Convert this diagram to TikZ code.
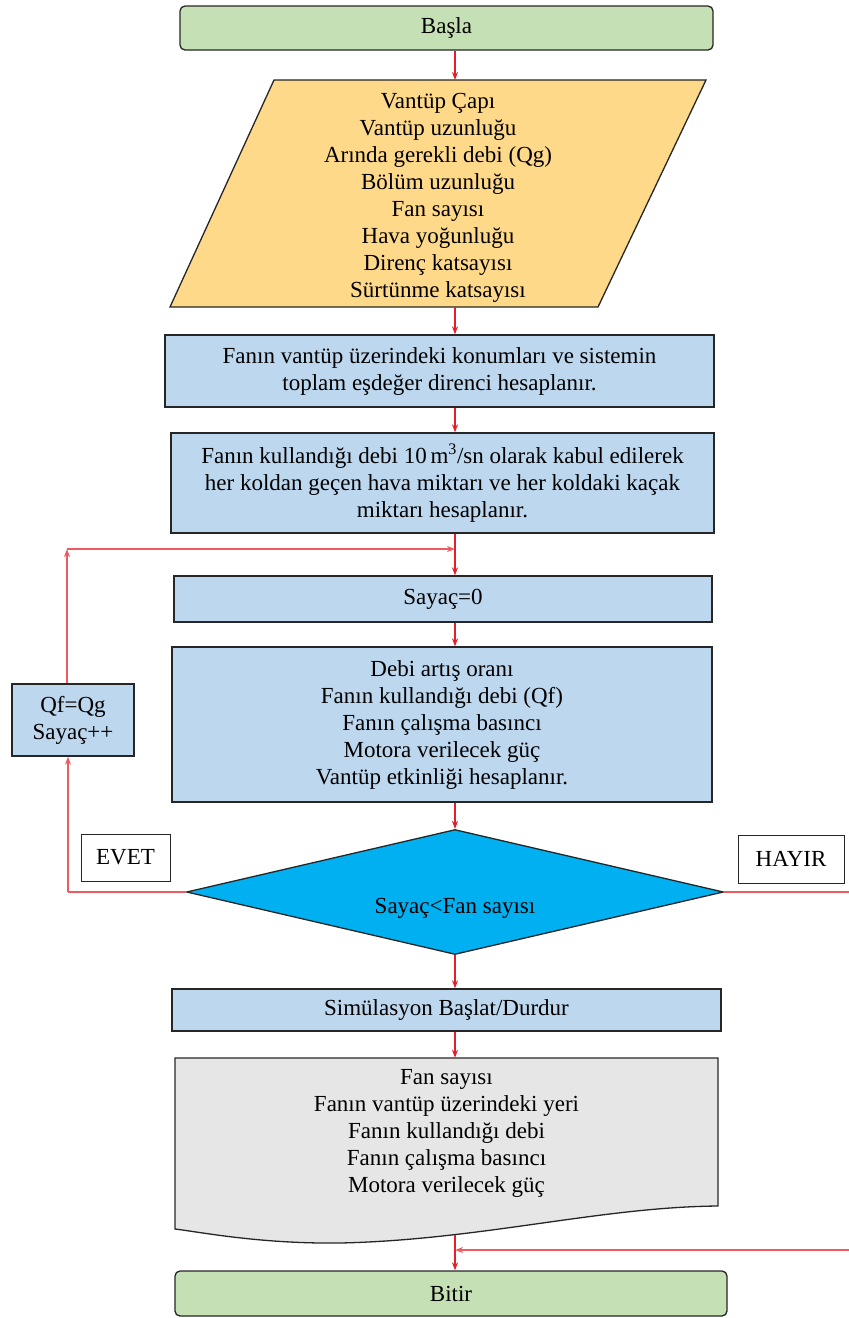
\documentclass[tikz,border=0pt]{standalone}
\usepackage{fontspec}
\setmainfont{Liberation Serif}
\usetikzlibrary{shapes.geometric,arrows.meta,calc}
\definecolor{startgreen}{HTML}{C5E0B4}
\definecolor{inyellow}{HTML}{FFD98A}
\definecolor{procblue}{HTML}{BDD7EE}
\definecolor{deccyan}{HTML}{00B0F0}
\definecolor{docgray}{HTML}{E7E6E6}
\definecolor{arrred}{HTML}{E0202A}
\definecolor{looppink}{HTML}{EE5A5F}
\definecolor{edgecol}{HTML}{262626}
\begin{document}
\begin{tikzpicture}[x=1pt,y=-1pt,
  every node/.style={font=\fontsize{23}{27}\selectfont, text=black},
  term/.style={draw=edgecol, line width=1.3pt, fill=startgreen, rounded corners=5pt, inner sep=0pt},
  proc/.style={draw=edgecol, line width=1.3pt, fill=procblue, inner sep=0pt, align=center},
  lbl/.style={draw=edgecol, line width=1pt, fill=white, inner sep=0pt},
  plain/.style={inner sep=0pt, align=center},
  arr/.style={draw=arrred, line width=1.4pt, -{Stealth[length=8pt,width=6pt]}},
  looparr/.style={draw=looppink, line width=1.8pt, -{Stealth[length=8pt,width=6pt]}},
  loopln/.style={draw=looppink, line width=1.8pt},
]
\useasboundingbox (0,0) rectangle (849,1318);
\clip (0,0) rectangle (849,1318);

% spine column
\coordinate (sp) at (455,0);

% start
\node[term, minimum width=533, minimum height=44] (start) at (446.5,28) {Başla};

% input parallelogram
\fill[inyellow] (274,80) -- (706,80) -- (598,307) -- (170,307) -- cycle;
\draw[edgecol, line width=1.3pt] (274,80) -- (706,80) -- (598,307) -- (170,307) -- cycle;
\coordinate (inpT) at (455,80);
\coordinate (inpB) at (455,307);
\node[plain] (inp) at (438,197.5)
  {Vantüp Çapı\\Vantüp uzunluğu\\Arında gerekli debi (Qg)\\Bölüm uzunluğu\\Fan sayısı\\Hava yoğunluğu\\Direnç katsayısı\\Sürtünme katsayısı};

% process boxes
\node[proc, minimum width=549, minimum height=72] (b1) at (439.5,371)
  {Fanın vantüp üzerindeki konumları ve sistemin\\toplam eşdeğer direnci hesaplanır.};
\node[proc, minimum width=543, minimum height=100] (b2) at (442.5,483)
  {\rule{0pt}{8pt}Fanın kullandığı debi 10\,m\textsuperscript{3}/sn olarak kabul edilerek\\her koldan geçen hava miktarı ve her koldaki kaçak\\miktarı hesaplanır.};
\node[proc, minimum width=538, minimum height=46] (say) at (443,599) {Sayaç=0};
\node[proc, minimum width=540, minimum height=155] (big) at (442,724.5)
  {Debi artış oranı\\Fanın kullandığı debi (Qf)\\Fanın çalışma basıncı\\Motora verilecek güç\\Vantüp etkinliği hesaplanır.};

% decision
\node[diamond, aspect=4.3, draw=edgecol, line width=1.3pt, fill=deccyan, inner sep=0pt,
      minimum width=537, minimum height=125] (dec) at (455,892) {};
\node[plain] (dectext) at (455,908) {Sayaç<Fan sayısı};

% loop box and labels
\node[proc, minimum width=122, minimum height=72] (qf) at (73,720) {Qf=Qg\\Sayaç++};
\node[lbl, minimum width=89, minimum height=47] (evet) at (125.5,857.5) {EVET};
\node[lbl, minimum width=106, minimum height=48] (hayir) at (791,859) {HAYIR};

% simulation
\node[proc, minimum width=549, minimum height=42] (sim) at (446.5,1010) {Simülasyon Başlat/Durdur};

% document shape
\draw[edgecol, line width=1.3pt, fill=docgray] (175,1058) -- (718,1058) -- (718,1206)
  .. controls (600,1207) and (480,1240) .. (340,1243)
  .. controls (260,1244) and (200,1232) .. (175,1229) -- cycle;
\node[plain, minimum width=543, minimum height=151] (doc) at (446.5,1133.5)
  {Fan sayısı\\Fanın vantüp üzerindeki yeri\\Fanın kullandığı debi\\Fanın çalışma basıncı\\Motora verilecek güç};
\coordinate (docb) at (455,1235);

% end
\node[term, minimum width=552, minimum height=45] (fin) at (451,1293.5) {Bitir};

% main connectors
\draw[arr] (start.south -| sp) -- (inpT);
\draw[arr] (inpB) -- (b1.north -| sp);
\draw[arr] (b1.south -| sp) -- (b2.north -| sp);
\draw[arr] (b2.south -| sp) -- (say.north -| sp);
\draw[arr] (say.south -| sp) -- (big.north -| sp);
\draw[arr] (big.south -| dec.north) -- (dec.north);
\draw[arr] (dec.south) -- (dec.south |- sim.north);
\draw[arr] (sim.south -| sp) -- (doc.north -| sp);
\draw[arr] (docb) -- (docb |- fin.north);

% EVET loop
\coordinate (evc) at (68,892);
\coordinate (lp) at (67,549);
\draw[loopln] (dec.west) -- (evc);
\draw[looparr] (evc) -- (evc |- qf.south);
\draw[looparr] (qf.north -| lp) -- (lp);
\draw[looparr] (lp) -- (lp -| sp);

% HAYIR path
\coordinate (rx1) at (880,892);
\coordinate (rx2) at (880,1250);
\draw[loopln] (dec.east) -- (rx1) -- (rx2);
\draw[looparr] (rx2) -- (rx2 -| sp);
\end{tikzpicture}
\end{document}
